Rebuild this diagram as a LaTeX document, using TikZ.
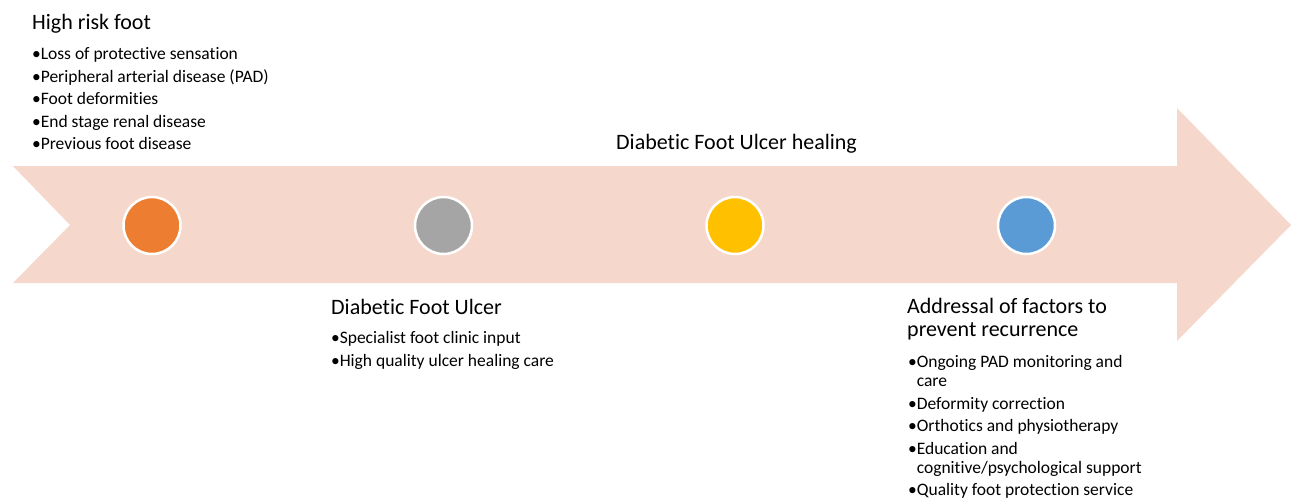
\documentclass[tikz,border=0pt]{standalone}
\usepackage{fontspec}
\setmainfont{Carlito}[RawFeature=-liga]
\definecolor{band}{RGB}{246,215,204}
\definecolor{corange}{RGB}{237,125,49}
\definecolor{cgray}{RGB}{165,165,165}
\definecolor{cyellow}{RGB}{255,192,0}
\definecolor{cblue}{RGB}{91,155,213}
\newcommand{\bul}{\makebox[8.6pt][l]{•}}
\tikzset{
  heading/.style={font=\fontsize{22}{26}\selectfont, anchor=base west, inner sep=0pt, text=black},
  item/.style={font=\fontsize{17.5}{20}\selectfont, anchor=base west, inner sep=0pt, text=black},
  dot/.style={circle, minimum size=57pt, inner sep=0pt, draw=white, line width=2.5pt},
}
\begin{document}
\begin{tikzpicture}[x=1pt,y=-1pt]
\useasboundingbox (0,0) rectangle (1291,499);
\fill[white] (0,0) rectangle (1291,499);
% arrow band
\fill[band] (13,166) -- (1177,166) -- (1177,108) -- (1291,225) -- (1177,341) -- (1177,283) -- (13,283) -- (70,225) -- cycle;
% circles
\node[dot, fill=corange] (c1) at (152,225.5) {};
\node[dot, fill=cgray] (c2) at (443.5,225.5) {};
\node[dot, fill=cyellow] (c3) at (735,225.5) {};
\node[dot, fill=cblue] (c4) at (1026.5,225.5) {};
% High risk foot
\node[heading] (t1) at (32,29.3) {High risk foot};
\node[item] (t1a) at (32,59.3) {\bul Loss of protective sensation};
\node[item] (t1b) at (32,82) {\bul Peripheral arterial disease (PAD)};
\node[item] (t1c) at (32,104.5) {\bul Foot deformities};
\node[item] (t1d) at (32,127) {\bul End stage renal disease};
\node[item] (t1e) at (32,149.5) {\bul Previous foot disease};
% Diabetic Foot Ulcer
\node[heading] (t2) at (331,314.3) {Diabetic Foot Ulcer};
\node[item] (t2a) at (331,343.3) {\bul Specialist foot clinic input};
\node[item] (t2b) at (331,366) {\bul High quality ulcer healing care};
% Healing
\node[heading] (t3) at (616,149.3) {Diabetic Foot Ulcer healing};
% Addressal
\node[heading] (t4) at (907,313.3) {Addressal of factors to};
\node[heading] (t4b) at (907,336.5) {prevent recurrence};
\node[item] (t4c) at (908,367.3) {\bul Ongoing PAD monitoring and};
\node[item] (t4d) at (916.6,386.5) {care};
\node[item] (t4e) at (908,409.3) {\bul Deformity correction};
\node[item] (t4f) at (908,431.7) {\bul Orthotics and physiotherapy};
\node[item] (t4g) at (908,454) {\bul Education and};
\node[item] (t4h) at (916.6,473.5) {cognitive/psychological support};
\node[item] (t4i) at (908,495.5) {\bul Quality foot protection service};
\end{tikzpicture}
\end{document}
